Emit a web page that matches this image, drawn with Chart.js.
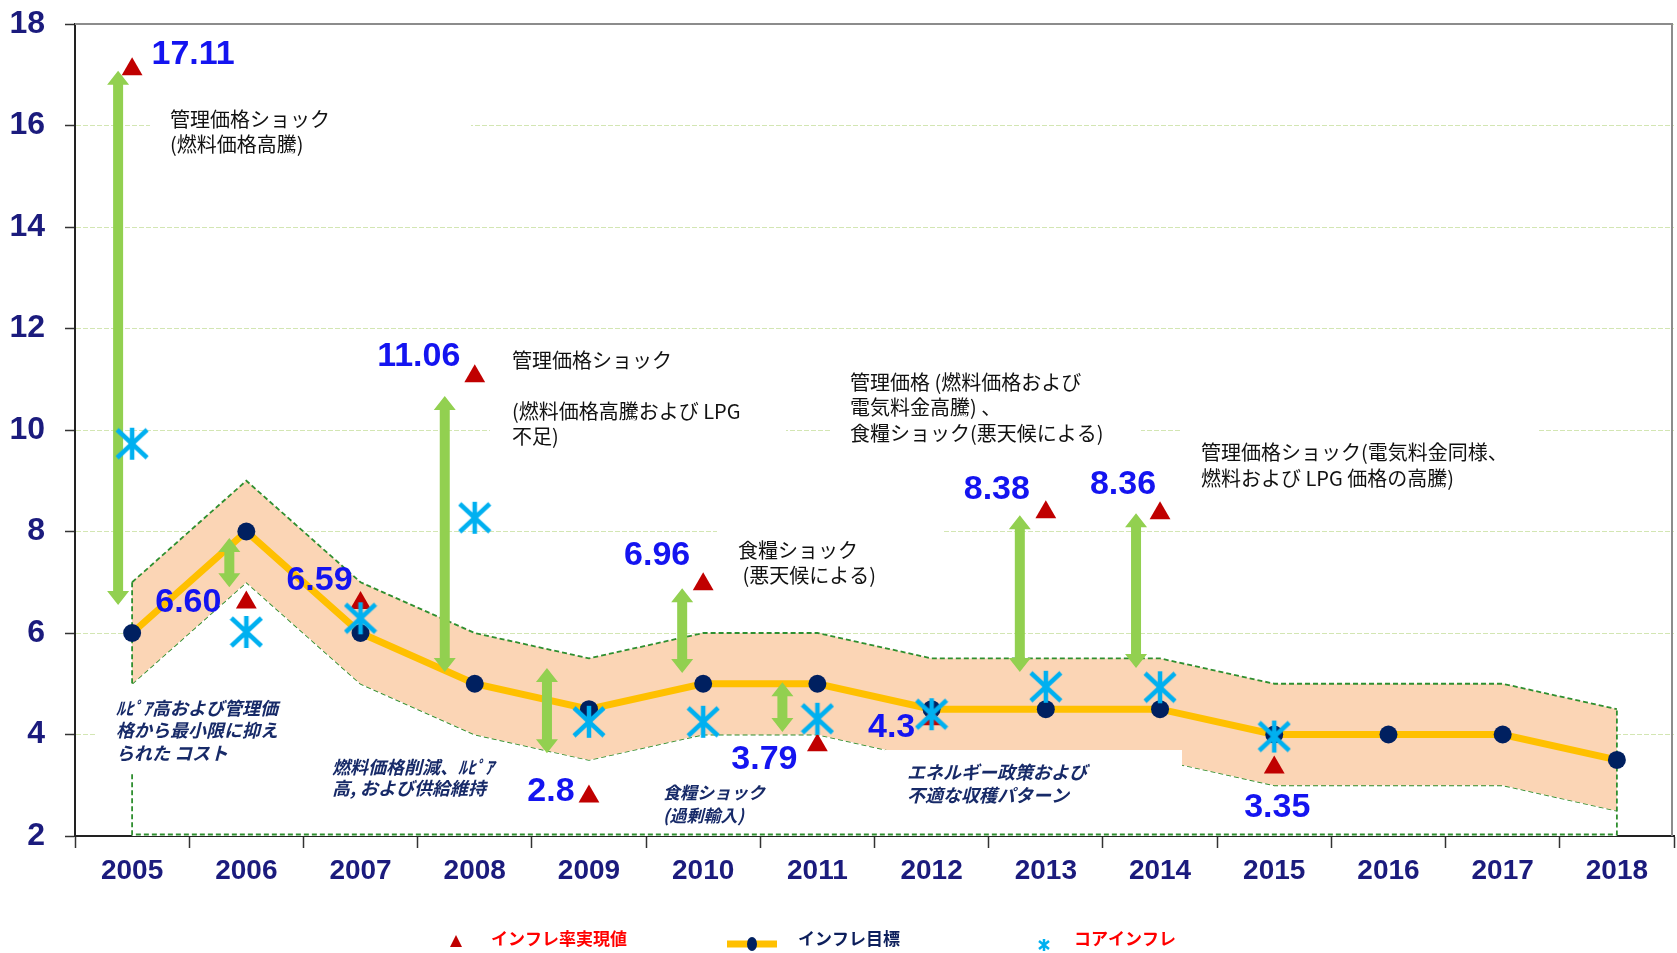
<!DOCTYPE html>
<html>
<head>
<meta charset="utf-8">
<script src="https://cdn.jsdelivr.net/npm/chart.js@4.4.1/dist/chart.umd.min.js"></script>
<style>
  html, body { margin: 0; padding: 0; background: #fff; }
  #wrap { width: 1677px; height: 953px; }
</style>
</head>
<body>
<div id="wrap"><canvas id="inflationChart" width="1677" height="953"></canvas></div>
<script>
// values
const years = ['2005', '2006', '2007', '2008', '2009', '2010', '2011', '2012', '2013', '2014', '2015', '2016', '2017', '2018'];
const inflationTarget = [6, 8, 6, 5, 4.5, 5, 5, 4.5, 4.5, 4.5, 4, 4, 4, 3.5];
const targetUpper = [7, 9, 7, 6, 5.5, 6, 6, 5.5, 5.5, 5.5, 5, 5, 5, 4.5];
const targetLower = [5, 7, 5, 4, 3.5, 4, 4, 3.5, 3.5, 3.5, 3, 3, 3, 2.5];
const actualInflation = [17.11, 6.60, 6.59, 11.06, 2.78, 6.96, 3.79, 4.30, 8.38, 8.36, 3.35, null, null, null];
const actualLabels = ['17.11', '6.60', '6.59', '11.06', '2.8', '6.96', '3.79', '4.3', '8.38', '8.36', '3.35'];
const coreInflation = [9.73, 6.02, 6.29, 8.27, 4.25, 4.25, 4.31, 4.40, 4.94, 4.93, 3.96, null, null, null];
// green gap arrows (low end / high end)
const gapLow = [6.55, 6.90, null, 5.23, 3.63, 5.21, 4.05, null, 5.23, 5.31, null, null, null, null];
const gapHigh = [17.08, 7.87, null, 10.67, 5.31, 6.88, 5.03, null, 8.32, 8.36, null, null, null, null];
const yTicks = [2, 4, 6, 8, 10, 12, 14, 16, 18];

// placement tweaks (pixels)
const arrowShift = [-14, -17, 0, -30, -42, -21, -35, 0, -26, -24];
const labelOffsets = [[61, -15], [-58, 0], [-41, -22], [-56, -20], [-38, -5], [-46, -29], [-53, 14], [-40, 8], [-49, -23], [-37, -29], [3, 40]];

const jpFont = "'Noto Sans CJK JP', 'Noto Sans', sans-serif";
const numFont = "'Liberation Sans', Arial, sans-serif";
const NAVY = '#1b1b7d';
const NOTE_NAVY = '#172a68';
const BAND_EDGE = '#2f8f2f';

const notes = [
    { lines: ['管理価格ショック', '(燃料価格高騰)'], x: 170, y: 119, lh: 25, box: [150, 97, 321, 62] },
    { lines: ['管理価格ショック', '', '(燃料価格高騰および LPG', '不足)'], x: 512, y: 360, lh: 25.5, box: [490, 340, 296, 110] },
    { lines: ['管理価格 (燃料価格および', '電気料金高騰) 、', '食糧ショック(悪天候による)'], x: 850, y: 382, lh: 25.5, box: [830, 362, 311, 88] },
    { lines: ['管理価格ショック(電気料金同様、', '燃料および LPG 価格の高騰)'], x: 1201, y: 452, lh: 26, box: [1181, 420, 358, 72] },
    { lines: ['食糧ショック', ' (悪天候による)'], x: 738, y: 550, lh: 25, box: [717, 522, 227, 68] }
];
const causeNotes = [
    { lines: ['ﾙﾋﾟｱ高および管理価', '格から最小限に抑え', 'られた コスト'], x: 116, y: 708, lh: 22.5, size: 18, box: [96, 684, 194, 89] },
    { lines: ['燃料価格削減、ﾙﾋﾟｱ', '高, および供給維持'], x: 332, y: 767, lh: 21.5, size: 18, box: [326, 752, 172, 76] },
    { lines: ['食糧ショック', '(過剰輸入)'], x: 663, y: 793, lh: 23, size: 17, box: [658, 778, 110, 52] },
    { lines: ['エネルギー政策および', '不適な収穫パターン'], x: 907, y: 772, lh: 23, size: 18, box: [885, 750, 297, 81] }
];

function makeAsterisk(size, color, lw) {
    const c = document.createElement('canvas');
    c.width = size;
    c.height = size;
    const g = c.getContext('2d');
    g.strokeStyle = color;
    g.lineWidth = lw;
    g.beginPath();
    g.moveTo(size / 2, 1);
    g.lineTo(size / 2, size - 1);
    g.moveTo(2, 3);
    g.lineTo(size - 2, size - 3);
    g.moveTo(2, size - 3);
    g.lineTo(size - 2, 3);
    g.stroke();
    return c;
}

const coreMark = makeAsterisk(34, '#00b0f0', 4.5);
const coreMarkSmall = makeAsterisk(14, '#00b0f0', 2.5);

function drawLines(ctx, item) {
    item.lines.forEach((t, k) => ctx.fillText(t, item.x, item.y + k * item.lh));
}

// band edges down to the axis, like the original area shape
const bandEdges = {
    id: 'bandEdges',
    afterDatasetDraw(chart, args) {
        if (args.index !== 3) return;
        const { ctx, scales: { x, y } } = chart;
        const last = years.length - 1;
        const x0 = x.getPixelForValue(0);
        const x1 = x.getPixelForValue(last);
        const yb = y.getPixelForValue(2) - 1.5;
        ctx.save();
        ctx.strokeStyle = BAND_EDGE;
        ctx.lineWidth = 1.8;
        ctx.setLineDash([5, 3]);
        ctx.beginPath();
        ctx.moveTo(x0, y.getPixelForValue(targetUpper[0]));
        ctx.lineTo(x0, yb);
        ctx.lineTo(x1, yb);
        ctx.lineTo(x1, y.getPixelForValue(targetUpper[last]));
        ctx.stroke();
        ctx.restore();
    }
};

const gapArrows = {
    id: 'gapArrows',
    afterDatasetDraw(chart, args) {
        if (args.index !== 2) return;
        const { ctx, scales: { x, y } } = chart;
        const hw = 11, sw = 5, hl = 14;
        ctx.save();
        ctx.fillStyle = '#92d050';
        gapLow.forEach((lo, i) => {
            if (lo == null) return;
            const cx = x.getPixelForValue(i) + arrowShift[i];
            const yTop = y.getPixelForValue(gapHigh[i]);
            const yBot = y.getPixelForValue(lo);
            ctx.beginPath();
            ctx.moveTo(cx, yTop);
            ctx.lineTo(cx + hw, yTop + hl);
            ctx.lineTo(cx + sw, yTop + hl);
            ctx.lineTo(cx + sw, yBot - hl);
            ctx.lineTo(cx + hw, yBot - hl);
            ctx.lineTo(cx, yBot);
            ctx.lineTo(cx - hw, yBot - hl);
            ctx.lineTo(cx - sw, yBot - hl);
            ctx.lineTo(cx - sw, yTop + hl);
            ctx.lineTo(cx - hw, yTop + hl);
            ctx.closePath();
            ctx.fill();
        });
        ctx.restore();
    }
};

const notesAndLabels = {
    id: 'notesAndLabels',
    afterDatasetsDraw(chart) {
        const { ctx, chartArea, scales: { x, y } } = chart;
        ctx.save();
        // frame top / right
        ctx.strokeStyle = '#8c8c8c';
        ctx.lineWidth = 2;
        ctx.beginPath();
        ctx.moveTo(chartArea.left, chartArea.top);
        ctx.lineTo(chartArea.right - 2, chartArea.top);
        ctx.lineTo(chartArea.right - 2, chartArea.bottom);
        ctx.stroke();

        // white boxes behind the notes
        ctx.fillStyle = '#ffffff';
        notes.concat(causeNotes).forEach(n => ctx.fillRect(n.box[0], n.box[1], n.box[2], n.box[3]));

        ctx.textBaseline = 'middle';
        ctx.textAlign = 'left';
        ctx.fillStyle = '#111111';
        ctx.font = '20px ' + jpFont;
        notes.forEach(n => drawLines(ctx, n));

        ctx.fillStyle = NOTE_NAVY;
        causeNotes.forEach(n => {
            ctx.font = 'italic bold ' + n.size + 'px ' + jpFont;
            drawLines(ctx, n);
        });

        // value labels of realised inflation
        ctx.textAlign = 'center';
        ctx.fillStyle = '#1414f0';
        ctx.font = 'bold 34px ' + numFont;
        actualLabels.forEach((t, i) => {
            const px = x.getPixelForValue(i) + labelOffsets[i][0];
            const py = y.getPixelForValue(actualInflation[i]) + labelOffsets[i][1];
            ctx.fillText(t, px, py);
        });
        ctx.restore();
    },
    afterDraw(chart) {
        const ctx = chart.ctx;
        const ly = 941;
        ctx.save();
        // realised
        ctx.fillStyle = '#c00000';
        ctx.beginPath();
        ctx.moveTo(456, ly - 6);
        ctx.lineTo(462, ly + 6);
        ctx.lineTo(450, ly + 6);
        ctx.closePath();
        ctx.fill();
        // target
        ctx.strokeStyle = '#ffc000';
        ctx.lineWidth = 7;
        ctx.beginPath();
        ctx.moveTo(727, ly + 3);
        ctx.lineTo(777, ly + 3);
        ctx.stroke();
        ctx.fillStyle = '#002060';
        ctx.beginPath();
        ctx.ellipse(752, ly + 3, 5, 7, 0, 0, Math.PI * 2);
        ctx.fill();
        // core
        ctx.drawImage(coreMarkSmall, 1037, ly - 3);

        ctx.font = 'bold 17px ' + jpFont;
        ctx.textBaseline = 'middle';
        ctx.fillStyle = '#ff0000';
        ctx.fillText('インフレ率実現値', 491, ly - 2);
        ctx.fillStyle = '#0d1f5c';
        ctx.fillText('インフレ目標', 798, ly - 2);
        ctx.fillStyle = '#ff0000';
        ctx.fillText('コアインフレ', 1074, ly - 2);
        ctx.restore();
    }
};

new Chart(document.getElementById('inflationChart'), {
    type: 'line',
    data: {
        labels: years,
        datasets: [
            {
                label: 'インフレ率実現値',
                data: actualInflation,
                showLine: false,
                pointStyle: 'triangle',
                pointRadius: 12,
                pointBackgroundColor: '#c00000',
                pointBorderColor: '#c00000',
                pointBorderWidth: 0,
                order: 1
            },
            {
                label: 'コアインフレ',
                data: coreInflation,
                showLine: false,
                pointStyle: coreMark,
                pointRadius: 17,
                order: 0
            },
            {
                label: 'インフレ目標',
                data: inflationTarget,
                borderColor: '#ffc000',
                borderWidth: 7,
                pointRadius: 9,
                pointBackgroundColor: '#002060',
                pointBorderColor: '#002060',
                pointBorderWidth: 0,
                tension: 0,
                order: 2
            },
            {
                label: 'upper',
                data: targetUpper,
                borderColor: BAND_EDGE,
                borderWidth: 1.8,
                borderDash: [5, 3],
                pointRadius: 0,
                backgroundColor: '#fbd5b5',
                fill: '+1',
                order: 3
            },
            {
                label: 'lower',
                data: targetLower,
                borderColor: BAND_EDGE,
                borderWidth: 1.8,
                borderDash: [5, 3],
                pointRadius: 0,
                backgroundColor: '#ffffff',
                fill: 'start',
                order: 4
            }
        ]
    },
    options: {
        responsive: false,
        animation: false,
        layout: { autoPadding: false, padding: { top: 24, right: 3, left: 0, bottom: 0 } },
        plugins: {
            legend: { display: false },
            tooltip: { enabled: false }
        },
        scales: {
            x: {
                offset: true,
                grid: { offset: true, drawOnChartArea: false, drawTicks: true, tickLength: 12, tickColor: '#333333', tickWidth: 1.5 },
                border: { color: '#222222', width: 2 },
                ticks: {
                    color: NAVY,
                    font: { family: numFont, size: 28, weight: 'bold' },
                    padding: 6,
                    maxRotation: 0,
                    autoSkip: false
                },
                afterFit(scale) {
                    scale.height = 117;
                    scale.paddingLeft = 0;
                    scale.paddingRight = 0;
                }
            },
            y: {
                min: 2,
                max: 18,
                afterBuildTicks(scale) { scale.ticks = yTicks.map(v => ({ value: v })); },
                grid: { color: '#d3e6b3', lineWidth: 1, tickLength: 10, tickColor: '#333333', tickWidth: 1.5 },
                border: { color: '#222222', width: 2, dash: [5, 2] },
                ticks: {
                    color: NAVY,
                    font: { family: numFont, size: 32, weight: 'bold' },
                    padding: 20
                },
                afterFit(scale) {
                    scale.width = 75;
                    scale.paddingTop = 0;
                    scale.paddingBottom = 0;
                }
            }
        }
    },
    plugins: [bandEdges, gapArrows, notesAndLabels]
});
</script>
</body>
</html>
